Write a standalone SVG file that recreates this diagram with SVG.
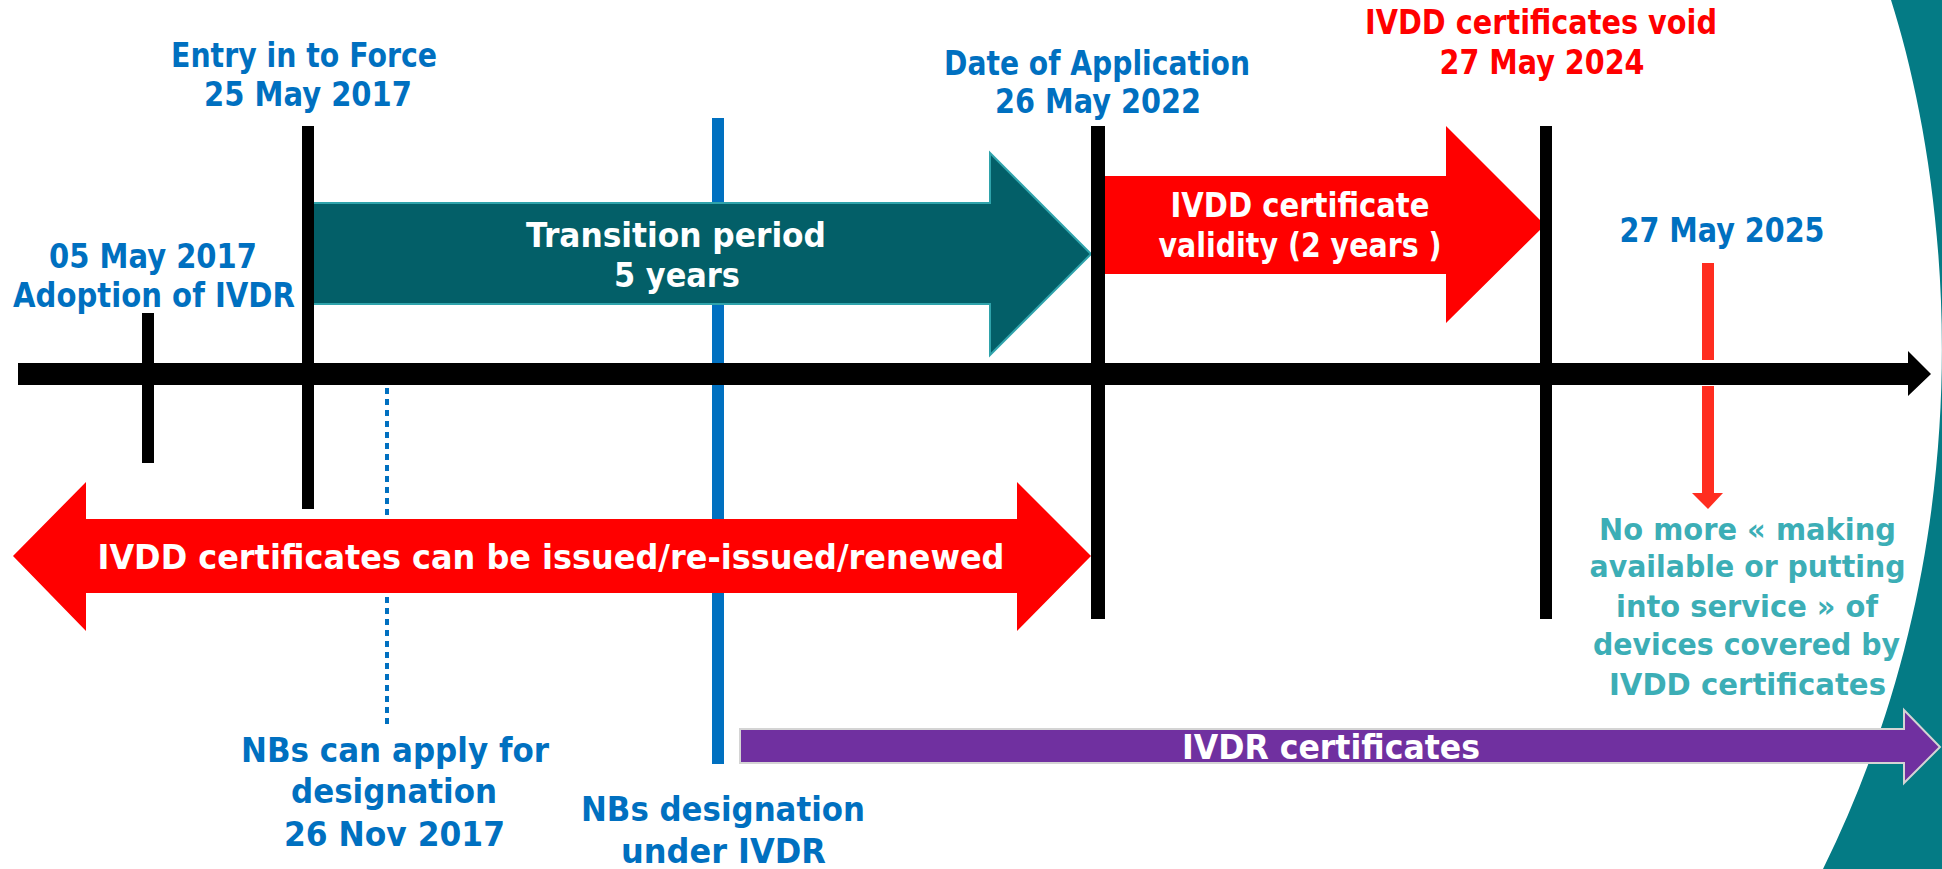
<svg xmlns="http://www.w3.org/2000/svg" width="1942" height="869" viewBox="0 0 1942 869">
<style>
.t{font-family:"DejaVu Sans","Liberation Sans",sans-serif;font-weight:bold;font-size:33px;text-anchor:middle}
.s30{font-size:30px}
.blue{fill:#0070C0}
.red{fill:#FF0000}
.white{fill:#FFFFFF}
.cyan{fill:#3CAEB6}
.bar{fill:#000000}
</style>
<rect x="0" y="0" width="1942" height="869" fill="#FFFFFF"/>
<g id="background">
<path d="M1891,0 C1945,170 1995,520 1823,869 L1942,869 L1942,0 Z" fill="#047B85"/>
</g>
<g id="connectors">
<line x1="387" y1="388" x2="387" y2="727" stroke="#0070C0" stroke-width="4" stroke-dasharray="6 5"/>
<rect x="712" y="118" width="12" height="646" fill="#0070C0"/>
</g>
<g id="transition-period">
<path d="M313,203 L990,203 L990,153 L1091,254 L990,355 L990,304 L313,304 Z" fill="#035F68" stroke="#2FA3AB" stroke-width="2"/>
<text class="t white" x="676" y="247" textLength="300" lengthAdjust="spacingAndGlyphs">Transition period</text>
<text class="t white" x="677" y="287" textLength="126" lengthAdjust="spacingAndGlyphs">5 years</text>
</g>
<g id="ivdd-issued">
<path d="M13,556 L86,482 L86,519 L1017,519 L1017,482 L1091,556 L1017,631 L1017,593 L86,593 L86,631 Z" fill="#FF0000"/>
<text class="t white" x="551" y="569" textLength="907" lengthAdjust="spacingAndGlyphs">IVDD certificates can be issued/re-issued/renewed</text>
</g>
<g id="ivdd-validity">
<path d="M1104,176 L1446,176 L1446,126 L1545,225 L1446,323 L1446,274 L1104,274 Z" fill="#FF0000"/>
<text class="t white" x="1300" y="217" textLength="259" lengthAdjust="spacingAndGlyphs">IVDD certificate</text>
<text class="t white" x="1300" y="257" textLength="283" lengthAdjust="spacingAndGlyphs">validity (2 years )</text>
</g>
<g id="ivdr-certificates">
<path d="M740,729 L1904,729 L1904,710 L1940,747 L1904,783 L1904,763 L740,763 Z" fill="#7030A0" stroke="#D4D4D4" stroke-width="2"/>
<text class="t white" x="1331" y="759" textLength="298" lengthAdjust="spacingAndGlyphs">IVDR certificates</text>
</g>
<g id="markers">
<rect x="142" y="313" width="12" height="150" class="bar"/>
<rect x="302" y="126" width="12" height="383" class="bar"/>
<rect x="1091" y="126" width="14" height="493" class="bar"/>
<rect x="1540" y="126" width="12" height="493" class="bar"/>
</g>
<g id="red-down-arrow">
<rect x="1702" y="263" width="12" height="97" fill="#FF2D20"/>
<path d="M1702,386 L1714,386 L1714,493 L1723,493 L1708,509 L1692,493 L1702,493 Z" fill="#FF2D20"/>
</g>
<g id="axis">
<path d="M18,363 L1908,363 L1908,351 L1931,374 L1908,396 L1908,385 L18,385 Z" fill="#000000"/>
</g>
<g id="adoption">
<text class="t blue" x="153" y="268" textLength="208" lengthAdjust="spacingAndGlyphs">05 May 2017</text>
<text class="t blue" x="154" y="307" textLength="282" lengthAdjust="spacingAndGlyphs">Adoption of IVDR</text>
</g>
<g id="entry-into-force">
<text class="t blue" x="304" y="67" textLength="266" lengthAdjust="spacingAndGlyphs">Entry in to Force</text>
<text class="t blue" x="308" y="106" textLength="208" lengthAdjust="spacingAndGlyphs">25 May 2017</text>
</g>
<g id="date-of-application">
<text class="t blue" x="1097" y="75" textLength="306" lengthAdjust="spacingAndGlyphs">Date of Application</text>
<text class="t blue" x="1098" y="113" textLength="206" lengthAdjust="spacingAndGlyphs">26 May 2022</text>
</g>
<g id="ivdd-void">
<text class="t red" x="1541" y="34" textLength="352" lengthAdjust="spacingAndGlyphs">IVDD certificates void</text>
<text class="t red" x="1542" y="74" textLength="205" lengthAdjust="spacingAndGlyphs">27 May 2024</text>
</g>
<g id="may-2025">
<text class="t blue" x="1722" y="242" textLength="205" lengthAdjust="spacingAndGlyphs">27 May 2025</text>
</g>
<g id="no-more">
<text class="t s30 cyan" x="1747.5" y="540" textLength="297" lengthAdjust="spacingAndGlyphs">No more « making</text>
<text class="t s30 cyan" x="1747.5" y="577" textLength="316" lengthAdjust="spacingAndGlyphs">available or putting</text>
<text class="t s30 cyan" x="1747" y="617" textLength="262" lengthAdjust="spacingAndGlyphs">into service » of</text>
<text class="t s30 cyan" x="1746.5" y="655" textLength="307" lengthAdjust="spacingAndGlyphs">devices covered by</text>
<text class="t s30 cyan" x="1747.5" y="695" textLength="277" lengthAdjust="spacingAndGlyphs">IVDD certificates</text>
</g>
<g id="nbs-apply">
<text class="t blue" x="395" y="762" textLength="308" lengthAdjust="spacingAndGlyphs">NBs can apply for</text>
<text class="t blue" x="394" y="803" textLength="206" lengthAdjust="spacingAndGlyphs">designation</text>
<text class="t blue" x="394.5" y="846" textLength="221" lengthAdjust="spacingAndGlyphs">26 Nov 2017</text>
</g>
<g id="nbs-designation">
<text class="t blue" x="723" y="821" textLength="284" lengthAdjust="spacingAndGlyphs">NBs designation</text>
<text class="t blue" x="723.5" y="863" textLength="205" lengthAdjust="spacingAndGlyphs">under IVDR</text>
</g>
</svg>
